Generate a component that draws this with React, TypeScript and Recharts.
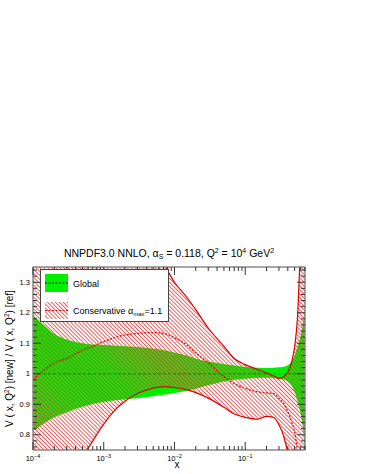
import { ComposedChart, Area, Line, XAxis, YAxis, ReferenceLine, Legend } from 'recharts'

// x grid and curves
const xs = [1e-4, 1.5e-4, 2e-4, 3e-4, 5e-4, 7e-4, 1e-3, 1.5e-3, 2e-3, 3e-3, 5e-3, 7e-3, 1e-2, 1.5e-2, 2e-2, 3e-2, 5e-2, 7e-2, 0.1, 0.15, 0.2, 0.25, 0.3, 0.35, 0.4, 0.45, 0.5, 0.55, 0.6, 0.65, 0.7]
const globalUp = [1.193, 1.155, 1.13, 1.112, 1.1, 1.096, 1.094, 1.092, 1.09, 1.088, 1.083, 1.078, 1.07, 1.06, 1.05, 1.04, 1.032, 1.027, 1.023, 1.02, 1.019, 1.02, 1.021, 1.023, 1.028, 1.04, 1.06, 1.09, 1.12, 1.16, 1.21]
const globalLow = [0.812, 0.84, 0.857, 0.874, 0.892, 0.901, 0.907, 0.913, 0.916, 0.92, 0.926, 0.931, 0.937, 0.944, 0.951, 0.962, 0.975, 0.98, 0.984, 0.986, 0.987, 0.986, 0.984, 0.981, 0.975, 0.962, 0.94, 0.91, 0.875, 0.83, 0.74]
const consUp = [1.6, 1.58, 1.56, 1.54, 1.52, 1.5, 1.49, 1.47, 1.46, 1.44, 1.4, 1.36, 1.3, 1.25, 1.21, 1.15, 1.09, 1.05, 1.03, 1.014, 1.003, 0.993, 0.985, 0.99, 1.005, 1.035, 1.09, 1.19, 1.4, 1.6, 1.9]
const consLow = [0.53, 0.56, 0.6, 0.65, 0.725, 0.78, 0.835, 0.885, 0.91, 0.935, 0.953, 0.958, 0.955, 0.947, 0.938, 0.92, 0.89, 0.868, 0.857, 0.851, 0.86, 0.857, 0.833, 0.795, 0.74, 0.68, 0.6, 0.5, 0.4, 0.3, 0.2]
const consMid = [0.981, 1.015, 1.035, 1.05, 1.077, 1.09, 1.105, 1.12, 1.127, 1.132, 1.135, 1.132, 1.118, 1.094, 1.068, 1.037, 0.99, 0.968, 0.952, 0.941, 0.937, 0.935, 0.92, 0.903, 0.875, 0.845, 0.808, 0.745, 0.68, 0.6, 0.5]

const yTicks = [0.76, 0.78, 0.8, 0.82, 0.84, 0.86, 0.88, 0.9, 0.92, 0.94, 0.96, 0.98, 1, 1.02, 1.04, 1.06, 1.08, 1.1, 1.12, 1.14, 1.16, 1.18, 1.2, 1.22, 1.24, 1.26, 1.28, 1.3, 1.32, 1.34]
const yMajor = [0.8, 0.9, 1, 1.1, 1.2, 1.3]
const yLabels = ['0.8', '0.9', '1', '1.1', '1.2', '1.3']
const xMajor = [1e-4, 1e-3, 1e-2, 1e-1]
const xExp = ['\u22124', '\u22123', '\u22122', '\u22121']
const xMinorMult = [2, 3, 4, 5, 6, 7, 8, 9]

const data = xs.map((x, i) => ({
  x,
  gU: globalUp[i],
  gL: globalLow[i],
  cU: consUp[i],
  cL: consLow[i],
  cM: consMid[i],
}))

const xTicks = xMajor.flatMap((d) => [d, ...xMinorMult.map((m) => d * m)]).filter((v) => v <= 0.7 + 1e-9)

const FONT = '"Liberation Sans", Arial, Helvetica, sans-serif'
const L = 33
const R = 305
const T = 267
const B = 450
const TICK = '#333'

const isMajorY = (v: number) => yMajor.findIndex((m) => Math.abs(m - v) < 1e-6)
const isMajorX = (v: number) => xMajor.findIndex((m) => Math.abs(m - v) / m < 1e-6)

function YTickLeft(props: any) {
  const { y, payload } = props
  const idx = isMajorY(payload.value)
  const len = idx >= 0 ? 8 : 4
  return (
    <g>
      <line x1={L} x2={L + len} y1={y} y2={y} stroke={TICK} strokeWidth={1} />
      {idx >= 0 && (
        <text x={L - 3} y={y + 2.5} textAnchor="end" fontSize={7.5} fontFamily={FONT} fill="#000">
          {yLabels[idx]}
        </text>
      )}
    </g>
  )
}

function YTickRight(props: any) {
  const { y, payload } = props
  const len = isMajorY(payload.value) >= 0 ? 8 : 4
  return <line x1={R - len} x2={R} y1={y} y2={y} stroke={TICK} strokeWidth={1} />
}

function XTickBottom(props: any) {
  const { x, payload } = props
  const idx = isMajorX(payload.value)
  const len = idx >= 0 ? 8 : 4
  return (
    <g>
      <line x1={x} x2={x} y1={B} y2={B - len} stroke={TICK} strokeWidth={1} />
      {idx >= 0 && (
        <text x={x} y={461} textAnchor="middle" fontSize={7.5} fontFamily={FONT} fill="#000">
          10
          <tspan dy={-3.5} fontSize={5.5}>
            {xExp[idx]}
          </tspan>
        </text>
      )}
    </g>
  )
}

function XTickTop(props: any) {
  const { x, payload } = props
  const len = isMajorX(payload.value) >= 0 ? 8 : 4
  return <line x1={x} x2={x} y1={T} y2={T + len} stroke={TICK} strokeWidth={1} />
}

function LegendBox() {
  return (
    <div
      style={{
        width: 129,
        height: 53,
        boxSizing: 'border-box',
        border: '1px solid #444',
        background: '#fff',
      }}
    >
      <svg width={127} height={51} style={{ display: 'block' }}>
        <defs>
          <pattern id="hatchLeg" patternUnits="userSpaceOnUse" width={2.8} height={2.8} patternTransform="rotate(-45)">
            <line x1={1.4} y1={0} x2={1.4} y2={2.8} stroke="#f23c3c" strokeWidth={0.85} />
          </pattern>
        </defs>
        <rect x={4} y={4} width={23} height={18} fill="#00ee00" />
        <line x1={4} x2={27} y1={13} y2={13} stroke="#000" strokeWidth={0.8} strokeDasharray="2 1.5" />
        <rect x={4} y={32} width={23} height={17} fill="url(#hatchLeg)" />
        <line x1={4} x2={27} y1={40.5} y2={40.5} stroke="#e00000" strokeWidth={1.2} strokeDasharray="2 1.5" />
        <text x={32} y={17} fontSize={9} fontFamily={FONT} fill="#000">
          Global
        </text>
        <text x={32} y={43.5} fontSize={9} fontFamily={FONT} fill="#000">
          Conservative {'\u03b1'}
          <tspan fontSize={6} dy={2}>
            max
          </tspan>
          <tspan dy={-2}>=1.1</tspan>
        </text>
      </svg>
    </div>
  )
}

export default function App() {
  return (
    <div style={{ position: 'absolute', left: 0, top: 0, width: 366, height: 474, background: '#fff' }}>
      <ComposedChart
        width={366}
        height={474}
        data={data}
        margin={{ top: T - 1, right: 366 - R - 1, bottom: 474 - B - 1, left: L - 1 }}
      >
        <defs>
          <pattern id="hatch" patternUnits="userSpaceOnUse" width={2.8} height={2.8} patternTransform="rotate(-45)">
            <line x1={1.4} y1={0} x2={1.4} y2={2.8} stroke="#f23c3c" strokeWidth={0.85} />
          </pattern>
        </defs>
        <XAxis
          dataKey="x"
          type="number"
          scale="log"
          domain={[1e-4, 0.7]}
          allowDataOverflow
          ticks={xTicks}
          interval={0}
          height={1}
          tickLine={false}
          axisLine={{ stroke: '#888', strokeWidth: 1.5 }}
          tick={<XTickBottom />}
        />
        <XAxis
          xAxisId="top"
          orientation="top"
          dataKey="x"
          type="number"
          scale="log"
          domain={[1e-4, 0.7]}
          allowDataOverflow
          ticks={xTicks}
          interval={0}
          height={1}
          tickLine={false}
          axisLine={{ stroke: '#888', strokeWidth: 1.5 }}
          tick={<XTickTop />}
        />
        <YAxis
          type="number"
          domain={[0.75, 1.35]}
          allowDataOverflow
          ticks={yTicks}
          interval={0}
          width={1}
          tickLine={false}
          axisLine={{ stroke: '#888', strokeWidth: 1.5 }}
          tick={<YTickLeft />}
        />
        <YAxis
          yAxisId="right"
          orientation="right"
          type="number"
          domain={[0.75, 1.35]}
          allowDataOverflow
          ticks={yTicks}
          interval={0}
          width={1}
          tickLine={false}
          axisLine={{ stroke: '#888', strokeWidth: 1.5 }}
          tick={<YTickRight />}
        />
        <Area
          type="monotone"
          dataKey={(d: any) => [d.gL, d.gU]}
          fill="#00ee00"
          fillOpacity={1}
          stroke="none"
          isAnimationActive={false}
        />
        <Area
          type="monotone"
          dataKey={(d: any) => [d.cL, d.cU]}
          fill="url(#hatch)"
          fillOpacity={1}
          stroke="none"
          isAnimationActive={false}
        />
        <ReferenceLine y={1} stroke="#1e5a1e" strokeWidth={0.8} strokeDasharray="3 2" />
        <Line type="monotone" dataKey="cU" stroke="#e00000" strokeWidth={1.2} dot={false} isAnimationActive={false} />
        <Line type="monotone" dataKey="cL" stroke="#e00000" strokeWidth={1.2} dot={false} isAnimationActive={false} />
        <Line
          type="monotone"
          dataKey="cM"
          stroke="#e00000"
          strokeWidth={1.2}
          strokeDasharray="2 1.5"
          dot={false}
          isAnimationActive={false}
        />
        <Legend
          layout="vertical"
          align="center"
          verticalAlign="middle"
          content={() => <LegendBox />}
          wrapperStyle={{ position: 'absolute', left: 40, top: 269, width: 129, height: 53 }}
        />
        <text x={(L + R) / 2} y={257} textAnchor="middle" fontSize={10.5} fontFamily={FONT} fill="#000">
          NNPDF3.0 NNLO, {'\u03b1'}
          <tspan fontSize={7} dy={2}>
            S
          </tspan>
          <tspan dy={-2}> = 0.118, Q</tspan>
          <tspan fontSize={7} dy={-4}>
            2
          </tspan>
          <tspan dy={4}> = 10</tspan>
          <tspan fontSize={7} dy={-4}>
            4
          </tspan>
          <tspan dy={4}> GeV</tspan>
          <tspan fontSize={7} dy={-4}>
            2
          </tspan>
        </text>
        <text
          x={0}
          y={0}
          transform={`translate(13, ${(T + B) / 2}) rotate(-90)`}
          textAnchor="middle"
          fontSize={10}
          fontFamily={FONT}
          fill="#000"
        >
          V ( x, Q<tspan fontSize={6.5} dy={-4}>2</tspan>
          <tspan dy={4}>) [new] / V ( x, Q</tspan>
          <tspan fontSize={6.5} dy={-4}>2</tspan>
          <tspan dy={4}>) [ref]</tspan>
        </text>
        <text x={177} y={468} textAnchor="middle" fontSize={10} fontFamily={FONT} fill="#000">
          x
        </text>
      </ComposedChart>
    </div>
  )
}
